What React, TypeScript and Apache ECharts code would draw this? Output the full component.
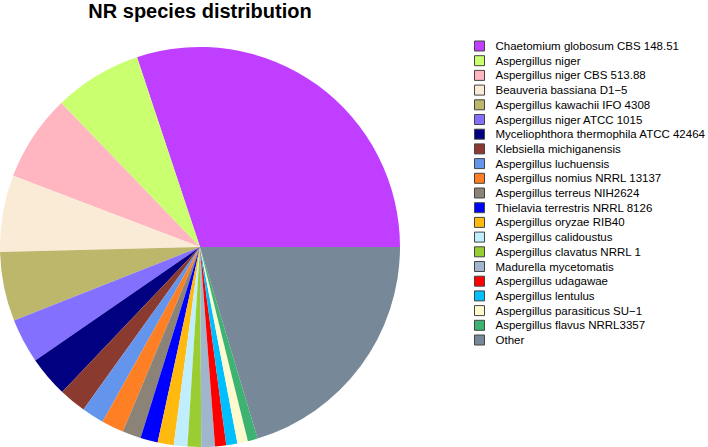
import React, { useEffect, useRef } from "react";
import * as echarts from "echarts";

const categories = [
  "Chaetomium globosum CBS 148.51",
  "Aspergillus niger",
  "Aspergillus niger CBS 513.88",
  "Beauveria bassiana D1\u22125",
  "Aspergillus kawachii IFO 4308",
  "Aspergillus niger ATCC 1015",
  "Myceliophthora thermophila ATCC 42464",
  "Klebsiella michiganensis",
  "Aspergillus luchuensis",
  "Aspergillus nomius NRRL 13137",
  "Aspergillus terreus NIH2624",
  "Thielavia terrestris NRRL 8126",
  "Aspergillus oryzae RIB40",
  "Aspergillus calidoustus",
  "Aspergillus clavatus NRRL 1",
  "Madurella mycetomatis",
  "Aspergillus udagawae",
  "Aspergillus lentulus",
  "Aspergillus parasiticus SU\u22121",
  "Aspergillus flavus NRRL3357",
  "Other",
];

const values = [
  30.1, 7.1, 7.0, 6.2, 5.6, 3.6, 3.3, 2.2, 1.8, 1.8, 1.5, 1.4, 1.3, 1.1, 1.1,
  1.1, 0.9, 0.9, 0.85, 0.8, 20.35,
];

const colors = [
  "#BF3EFF",
  "#CAFF70",
  "#FFB6C1",
  "#FAEBD7",
  "#BDB76B",
  "#8470FF",
  "#000080",
  "#8B3A2F",
  "#6495ED",
  "#FF7F24",
  "#8B8378",
  "#0000FF",
  "#FFB90F",
  "#BFEFFF",
  "#9ACD32",
  "#9FB6CD",
  "#FF0000",
  "#00BFFF",
  "#FFFACD",
  "#3CB371",
  "#778899",
];

const titleText = "NR species distribution";

export default function App() {
  const ref = useRef<HTMLDivElement>(null);
  useEffect(() => {
    if (!ref.current) return;
    const chart = echarts.init(ref.current, undefined, { renderer: "svg" });
    chart.setOption({
      animation: false,
      backgroundColor: "#ffffff",
      title: {
        text: titleText,
        left: 200,
        textAlign: "center",
        top: 1,
        padding: 0,
        textStyle: {
          fontFamily: "Liberation Sans",
          fontWeight: "bold",
          fontSize: 20,
          color: "#000",
        },
      },
      legend: {
        orient: "vertical",
        left: 474,
        top: 40,
        padding: 0,
        itemWidth: 10,
        itemHeight: 10,
        itemGap: 2.7,
        icon: "rect",
        itemStyle: { borderColor: "#444", borderWidth: 1 },
        textStyle: {
          fontFamily: "Liberation Sans",
          fontSize: 11.5,
          color: "#000",
          lineHeight: 12,
          padding: [0, 0, 0, 6],
        },
        data: categories,
      },
      series: [
        {
          type: "pie",
          center: [200, 247],
          radius: 200,
          startAngle: 0,
          clockwise: false,
          label: { show: false },
          labelLine: { show: false },
          emphasis: { disabled: true },
          itemStyle: { borderWidth: 0 },
          data: categories.map((name, i) => ({
            name,
            value: values[i],
            itemStyle: { color: colors[i] },
          })),
        },
      ],
    });
    return () => chart.dispose();
  }, []);
  return (
    <div
      ref={ref}
      style={{ position: "fixed", left: 0, top: 0, width: 708, height: 447 }}
    />
  );
}
